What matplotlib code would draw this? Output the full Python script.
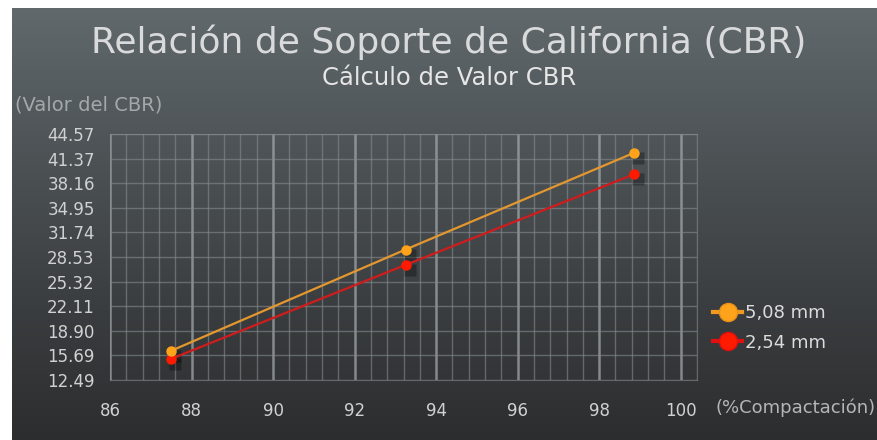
import matplotlib
matplotlib.use('Agg')
import matplotlib.pyplot as plt
import matplotlib.transforms as mtransforms
from matplotlib.colors import LinearSegmentedColormap
from matplotlib.lines import Line2D
import numpy as np

# datos
compactacion = [87.5, 93.25, 98.85]
cbr_508 = [16.3, 29.5, 42.1]
cbr_254 = [15.25, 27.5, 39.3]
etiquetas = ['5,08 mm', '2,54 mm']
yticks = [12.49, 15.69, 18.90, 22.11, 25.32, 28.53, 31.74, 34.95, 38.16, 41.37, 44.57]
xticks = [86, 88, 90, 92, 94, 96, 98, 100]

W, H = 878, 440
fig = plt.figure(figsize=(W / 100, H / 100), dpi=100, facecolor='white')
plt.rcParams['font.family'] = ['DejaVu Sans']

# fondo degradado
bg = fig.add_axes([12 / W, 0, 1 - 12 / W, 1 - 8 / H])
cmap_bg = LinearSegmentedColormap.from_list(
    'bg', [(0, '#61696d'), (0.3, '#4f5558'), (0.7, '#3a3d3f'), (1, '#2c2d2e')])
bg.imshow(np.linspace(0, 1, 256).reshape(-1, 1), aspect='auto', cmap=cmap_bg,
          extent=[0, 1, 0, 1], origin='upper')
bg.set_axis_off()

ax = fig.add_axes([110 / W, 1 - 380 / H, 587 / W, 246 / H])
ax.set_facecolor('none')
ax.set_xlim(86, 100.4)
ax.set_ylim(12.49, 44.57)

# rejilla
for x in np.arange(86, 100.41, 0.4):
    mayor = abs(x / 2 - round(x / 2)) < 1e-6
    ax.axvline(x, color='#a0a6aa' if mayor else '#858b8f',
               lw=1.8 if mayor else 1.0, alpha=0.75 if mayor else 0.6, zorder=1)
for y in yticks:
    ax.axhline(y, color='#858b8f', lw=1.0, alpha=0.6, zorder=1)

for s in ax.spines.values():
    s.set_color('#858b8f')
    s.set_alpha(0.6)

ax.set_xticks(xticks)
ax.set_yticks(yticks)
ax.set_yticklabels([f'{v:.2f}' for v in yticks])
ax.tick_params(length=0, colors='#cfd1d2', labelsize=12)
ax.tick_params(axis='y', pad=11)
ax.tick_params(axis='x', pad=16)

# sombras de los puntos
desplaz = mtransforms.offset_copy(ax.transData, fig=fig, x=4, y=-5, units='dots')
for serie in (cbr_508, cbr_254):
    ax.plot(compactacion, serie, ls='none', marker='s', ms=8, mfc='black', mec='none',
            alpha=0.3, transform=desplaz, zorder=2)

ax.plot(compactacion, cbr_508, color='#e3972f', lw=1.6, marker='o', ms=6.5,
        mfc='#ffa31a', mec='#ffa31a', zorder=4)
ax.plot(compactacion, cbr_254, color='#d01c1c', lw=1.6, marker='o', ms=6.5,
        mfc='#ff1a00', mec='#ff1a00', zorder=3)

# leyenda
h1 = Line2D([], [], color='#f09a20', lw=3, marker='o', ms=13, mfc='#ffa31a', mec='#e8901a')
h2 = Line2D([], [], color='#e01010', lw=3, marker='o', ms=13, mfc='#ff1a00', mec='#e01010')
leg = fig.legend([h1, h2], etiquetas, loc='center left',
                 bbox_to_anchor=(697 / W, 1 - 328 / H), frameon=False,
                 handlelength=1.6, handletextpad=0.15, labelspacing=0.62,
                 prop={'size': 13})
for t in leg.get_texts():
    t.set_color('#dcdcdc')

# textos
fig.text(449 / W, 1 - 42 / H, 'Relación de Soporte de California (CBR)',
         ha='center', va='center', color='#d9dadb', fontsize=26)
fig.text(449 / W, 1 - 78 / H, 'Cálculo de Valor CBR', ha='center', va='center',
         color='#e6e6e6', fontsize=17.5)
fig.text(15 / W, 1 - 105 / H, '(Valor del CBR)', ha='left', va='center',
         color='#a4a8aa', fontsize=14)
fig.text(716 / W, 1 - 408 / H, '(%Compactación)', ha='left', va='center',
         color='#b4b6b8', fontsize=13)

plt.savefig('out.png', dpi=100, facecolor='white')
